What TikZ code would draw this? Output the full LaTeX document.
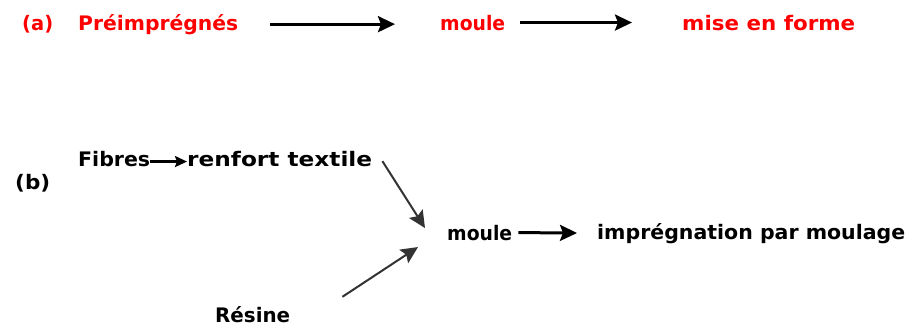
\documentclass[tikz,border=0pt]{standalone}
\usepackage{fontspec}
\usepackage{graphicx}
\setmainfont{DejaVu Sans}
\usetikzlibrary{arrows.meta}
\newsavebox\fitbox
\newcommand\fitw[2]{\sbox\fitbox{#2}\pgfmathsetmacro\fitf{#1/\wd\fitbox}\scalebox{\fitf}[1]{\usebox\fitbox}}
\begin{document}
\begin{tikzpicture}[x=1pt,y=-1pt,
  lbl/.style={anchor=base west,inner sep=0pt,font=\fontsize{20}{24}\selectfont\bfseries},
  redlbl/.style={lbl,text=red},
  arr/.style={-{Stealth[length=17pt,width=16pt,inset=3pt]},line width=3pt},
  smallarr/.style={-{Stealth[length=12pt,width=11pt,inset=2pt]},line width=2.4pt},
  diagarr/.style={-{Stealth[length=17pt,width=16pt,inset=3pt]},line width=2pt,black!80}]
\useasboundingbox[fill=white] (0,0) rectangle (922,327);
% (a)
\node[redlbl] (la) at (22,30) {\fitw{31pt}{(a)}};
\node[redlbl] (pre) at (78,30) {\fitw{160pt}{Préimprégnés}};
\node[redlbl] (moA) at (440,30) {\fitw{65pt}{moule}};
\node[redlbl] (mef) at (682,30) {\fitw{173pt}{mise en forme}};
\draw[arr,shorten <=32pt,shorten >=45pt] (pre.east) -- (pre.east -| moA.west);
\draw[arr,shorten <=15pt,shorten >=50pt] (moA.east) -- (mef.west);
% (b)
\node[lbl] (lb) at (15,189) {\fitw{35pt}{(b)}};
\node[lbl] (fib) at (78,166) {\fitw{72pt}{Fibres}};
\node[lbl] (renf) at (187,166) {\fitw{185pt}{renfort textile}};
\node[lbl] (moB) at (447,240) {\fitw{65pt}{moule}};
\node[lbl] (imp) at (597,239) {\fitw{308pt}{imprégnation par moulage}};
\node[lbl] (res) at (215,322) {\fitw{75pt}{Résine}};
\draw[smallarr] ([yshift=-3pt]fib.east) -- ([yshift=-3pt]renf.west);
\draw[arr,shorten <=6pt,shorten >=20pt] (moB.east) -- (imp.west);
\draw[diagarr] ([shift={(10,2.6)}]renf.east) -- ([shift={(-22,-4.5)}]moB.west);
\draw[diagarr] ([shift={(52,-9)}]res.north east) -- ([shift={(-29,14.5)}]moB.west);
\end{tikzpicture}
\end{document}
